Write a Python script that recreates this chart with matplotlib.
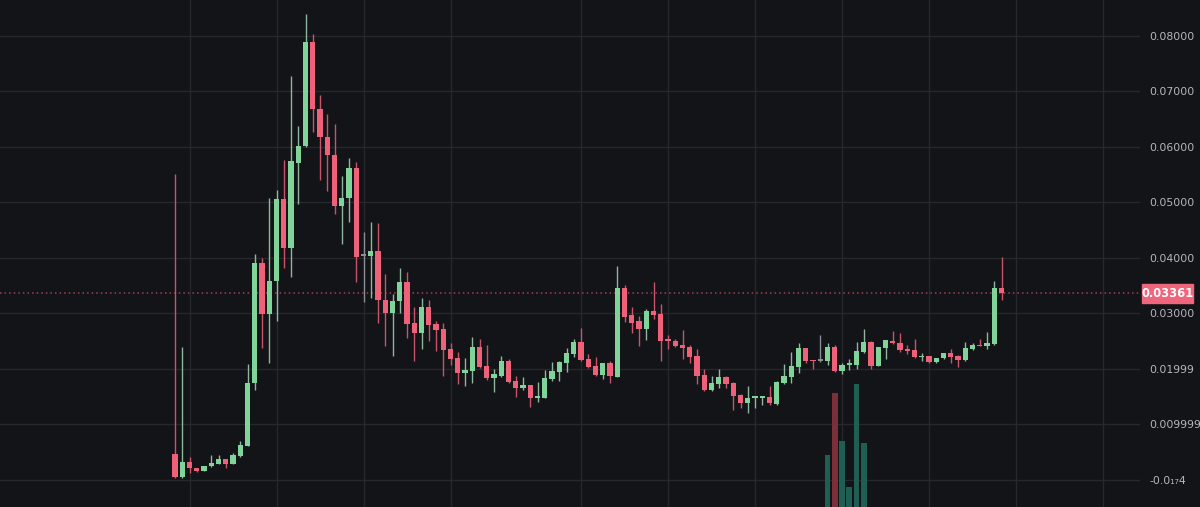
"""
Grafico de velas estilo terminal oscuro: precio con volumen parcial abajo.
"""

import matplotlib
matplotlib.use("Agg")
import matplotlib.pyplot as plt
import matplotlib.patches as mpatches
import matplotlib.transforms as mtransforms
import numpy as np

# ─── Datos (OHLC por vela) ──────────────────────────────────────────────────
opens = [
    0.00463, 0.00054, 0.00314, 0.00205, 0.00162, 0.00240, 0.00288, 0.00373, 0.00288, 0.00427,
    0.00613, 0.01738, 0.03912, 0.02988, 0.03588, 0.05066, 0.04171, 0.05715, 0.06021, 0.07885,
    0.06677, 0.06172, 0.05848, 0.04934, 0.05078, 0.05614, 0.04038, 0.04033, 0.04128, 0.03240,
    0.03011, 0.03215, 0.03558, 0.02820, 0.02640, 0.03108, 0.02803, 0.02711, 0.02356, 0.02188,
    0.01918, 0.01966, 0.02387, 0.02044, 0.01839, 0.01875, 0.02134, 0.01773, 0.01659, 0.01702,
    0.01478, 0.01478, 0.01821, 0.01948, 0.02110, 0.02266, 0.02477, 0.02176, 0.02050, 0.01887,
    0.02098, 0.01857, 0.03449, 0.02963, 0.02861, 0.02711, 0.03036, 0.02981, 0.02519, 0.02495,
    0.02423, 0.02392, 0.02230, 0.01887, 0.01617, 0.01725, 0.01851, 0.01749, 0.01527, 0.01388,
    0.01478, 0.01478, 0.01490, 0.01365, 0.01737, 0.01857, 0.02038, 0.02369, 0.02158, 0.02145,
    0.02139, 0.02392, 0.01959, 0.02062, 0.02074, 0.02308, 0.02483, 0.02050, 0.02380, 0.02507,
    0.02459, 0.02356, 0.02338, 0.02207, 0.02225, 0.02116, 0.02189, 0.02285, 0.02225, 0.02158,
    0.02356, 0.02423, 0.02411, 0.02448, 0.03457,
]
highs = [
    0.05506, 0.02387, 0.00404, 0.00210, 0.00250, 0.00445, 0.00445, 0.00380, 0.00487, 0.00698,
    0.02086, 0.04063, 0.03991, 0.05084, 0.05223, 0.05763, 0.07278, 0.06377, 0.08396, 0.08035,
    0.06935, 0.06593, 0.06413, 0.05480, 0.05805, 0.05733, 0.04460, 0.04651, 0.04633, 0.03703,
    0.03342, 0.03811, 0.03739, 0.03108, 0.03270, 0.03234, 0.02861, 0.02820, 0.02459, 0.02297,
    0.02188, 0.02567, 0.02537, 0.02423, 0.01990, 0.02225, 0.02171, 0.01870, 0.01845, 0.01702,
    0.01756, 0.01972, 0.02116, 0.02145, 0.02380, 0.02537, 0.02735, 0.02261, 0.02207, 0.02098,
    0.02140, 0.03853, 0.03510, 0.03114, 0.02945, 0.03072, 0.03558, 0.03162, 0.02603, 0.02543,
    0.02699, 0.02423, 0.02350, 0.01990, 0.01870, 0.01996, 0.01870, 0.01767, 0.01539, 0.01689,
    0.01490, 0.01490, 0.01689, 0.01773, 0.02080, 0.02297, 0.02459, 0.02381, 0.02164, 0.02615,
    0.02459, 0.02428, 0.02098, 0.02176, 0.02483, 0.02711, 0.02501, 0.02398, 0.02525, 0.02687,
    0.02651, 0.02428, 0.02537, 0.02279, 0.02231, 0.02201, 0.02291, 0.02356, 0.02243, 0.02483,
    0.02459, 0.02531, 0.02657, 0.03577, 0.04009,
]
lows = [
    0.00025, 0.00025, 0.00115, 0.00144, 0.00150, 0.00234, 0.00280, 0.00216, 0.00280, 0.00410,
    0.00600, 0.01617, 0.02380, 0.02109, 0.02867, 0.03811, 0.03649, 0.04965, 0.05993, 0.06274,
    0.05403, 0.05210, 0.04785, 0.04243, 0.04640, 0.03566, 0.03198, 0.03281, 0.02832, 0.02416,
    0.02235, 0.03000, 0.02549, 0.02134, 0.02356, 0.02500, 0.02320, 0.01870, 0.02068, 0.01725,
    0.01695, 0.01749, 0.02019, 0.01797, 0.01581, 0.01851, 0.01749, 0.01496, 0.01617, 0.01316,
    0.01406, 0.01478, 0.01785, 0.01779, 0.01947, 0.02217, 0.02140, 0.02019, 0.01875, 0.01815,
    0.01738, 0.01845, 0.02849, 0.02645, 0.02410, 0.02520, 0.02891, 0.02140, 0.02350, 0.02386,
    0.02176, 0.02098, 0.01725, 0.01604, 0.01604, 0.01659, 0.01659, 0.01257, 0.01298, 0.01208,
    0.01298, 0.01347, 0.01347, 0.01347, 0.01725, 0.01749, 0.01929, 0.02098, 0.01996, 0.02120,
    0.02068, 0.01950, 0.01900, 0.01978, 0.02001, 0.02291, 0.01996, 0.02050, 0.02171, 0.02453,
    0.02303, 0.02267, 0.02195, 0.02140, 0.02104, 0.02104, 0.02171, 0.02104, 0.02026, 0.02140,
    0.02338, 0.02405, 0.02356, 0.02420, 0.03238,
]
closes = [
    0.00054, 0.00314, 0.00205, 0.00162, 0.00247, 0.00306, 0.00373, 0.00288, 0.00445, 0.00626,
    0.01738, 0.03912, 0.02988, 0.03588, 0.05066, 0.04171, 0.05745, 0.06016, 0.07885, 0.06677,
    0.06172, 0.05848, 0.04934, 0.05078, 0.05614, 0.04009, 0.04038, 0.04128, 0.03240, 0.03011,
    0.03227, 0.03558, 0.02806, 0.02640, 0.03108, 0.02791, 0.02699, 0.02337, 0.02176, 0.01918,
    0.01972, 0.02387, 0.02032, 0.01839, 0.01900, 0.02134, 0.01767, 0.01653, 0.01702, 0.01478,
    0.01496, 0.01828, 0.01954, 0.02116, 0.02279, 0.02477, 0.02158, 0.02032, 0.01887, 0.02098,
    0.01870, 0.03449, 0.02939, 0.02830, 0.02711, 0.03041, 0.02963, 0.02500, 0.02507, 0.02410,
    0.02369, 0.02212, 0.01870, 0.01617, 0.01743, 0.01851, 0.01725, 0.01509, 0.01377, 0.01467,
    0.01490, 0.01490, 0.01377, 0.01761, 0.01875, 0.02050, 0.02369, 0.02145, 0.02134, 0.02145,
    0.02392, 0.01959, 0.02068, 0.02098, 0.02327, 0.02483, 0.02050, 0.02392, 0.02513, 0.02459,
    0.02338, 0.02314, 0.02207, 0.02225, 0.02116, 0.02201, 0.02285, 0.02207, 0.02165, 0.02369,
    0.02423, 0.02411, 0.02459, 0.03457, 0.03361,
]

# volumen (solo aparece en unas pocas velas)
vol_index = [90, 91, 92, 93, 94, 95]
vol_values = [5.2, 11.4, 6.6, 2.0, 12.3, 6.4]

tick_values = [0.08, 0.07, 0.06, 0.05, 0.04, 0.03, 0.02, 0.01, 0.0]
tick_labels = ["0.08000", "0.07000", "0.06000", "0.05000", "0.04000",
               "0.03000", "0.01999", "0.009999", "-0.0₁₇4"]
vgrid_index = [2, 14, 26, 38, 56, 68, 80, 92, 104, 116, 128]
last_price = 0.03361

# ─── Estilo ─────────────────────────────────────────────────────────────────
BG = "#131417"
GRID = "#26282c"
UP = "#80d49a"
DOWN = "#ef6179"
FLAT = "#8a8d94"
UP_WICK = "#8fb7a0"
DOWN_WICK = "#c9536a"
VOL_UP = "#1f5f53"
VOL_DOWN = "#7b2f39"
LABEL = "#b4b7be"

o = np.array(opens)
h = np.array(highs)
l = np.array(lows)
c = np.array(closes)
x = np.arange(len(o))

body_col = [UP if cc > oo else (DOWN if cc < oo else FLAT) for oo, cc in zip(o, c)]
wick_col = [UP_WICK if cc > oo else (DOWN_WICK if cc < oo else FLAT) for oo, cc in zip(o, c)]

fig = plt.figure(figsize=(12, 5.07), dpi=100, facecolor=BG)
ax = fig.add_axes([0, 0, 1140 / 1200, 1])
ax.set_facecolor(BG)

# volumen (eje gemelo, dibujado detras de las velas)
axv = ax.twinx()
axv.set_ylim(0, 50.7)
axv.set_axis_off()
vcol = [VOL_UP if closes[i] >= opens[i] else VOL_DOWN for i in vol_index]
axv.bar(vol_index, vol_values, width=0.82, color=vcol, lw=0)

# rejilla
for gi in vgrid_index:
    ax.axvline(gi, color=GRID, lw=1, zorder=0)
for tv in tick_values:
    ax.axhline(tv, color=GRID, lw=1, zorder=0)

# velas
ax.vlines(x, l, h, colors=wick_col, lw=1.0, zorder=2)
bottoms = np.minimum(o, c)
heights = np.maximum(np.abs(c - o), 0.00025)
ax.bar(x, heights, bottom=bottoms, width=0.72, color=body_col, lw=0, zorder=3)

# linea de ultimo precio
ax.axhline(last_price, color="#a3414f", lw=1.1, ls=(0, (1, 2)), zorder=1)

ax.set_xlim(-24.14, 133.1)
ax.set_ylim(-0.00492, 0.08648)

ax.yaxis.tick_right()
ax.yaxis.set_label_position("right")
ax.set_yticks(tick_values)
ax.set_yticklabels(tick_labels)
ax.tick_params(axis="y", which="both", left=False, labelleft=False, right=False,
               labelright=True, length=0, pad=7, labelcolor=LABEL, labelsize=7.8)
ax.set_xticks([])
for s in ax.spines.values():
    s.set_visible(False)

# etiqueta de precio actual
trans = mtransforms.blended_transform_factory(ax.transAxes, ax.transData)
ax.add_patch(mpatches.Rectangle((1142 / 1140, last_price - 0.00167), 51 / 1140, 0.00334,
                                transform=trans, color="#f0657e", clip_on=False, zorder=5))
ax.text(1167.5 / 1140, last_price, f"{last_price:.5f}", transform=trans, ha="center",
        va="center", color="white", fontsize=8.3, fontweight="bold", zorder=6, clip_on=False)

plt.savefig("out.png", dpi=100, facecolor=BG)
